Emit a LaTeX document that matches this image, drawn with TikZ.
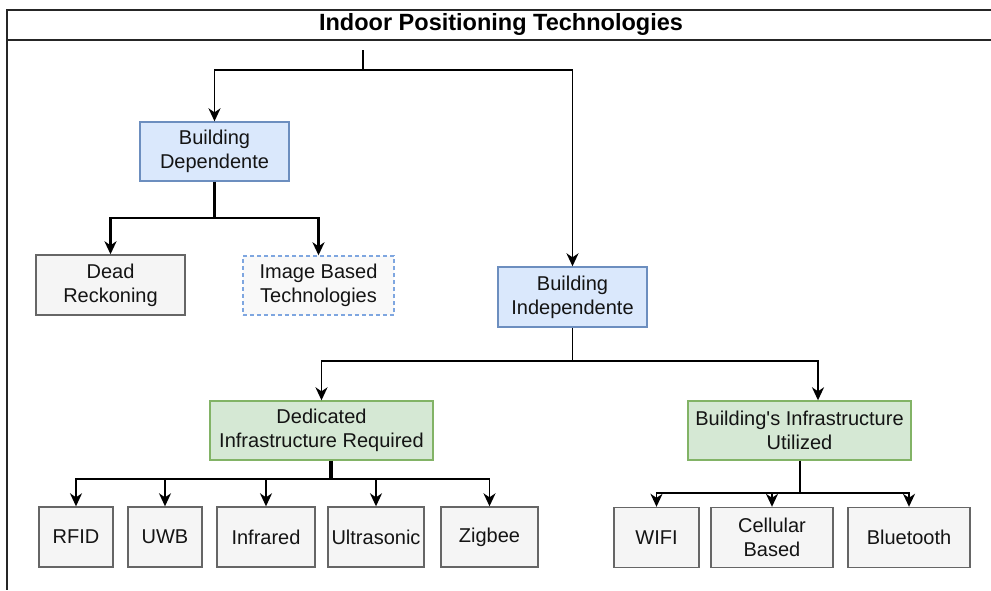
\documentclass[tikz,border=0pt]{standalone}
\usepackage{fontspec}
\setmainfont{Liberation Sans}
\usetikzlibrary{arrows.meta,calc}
\definecolor{bfill}{HTML}{DAE8FC}
\definecolor{bline}{HTML}{6C8EBF}
\definecolor{gfill}{HTML}{D5E8D4}
\definecolor{gline}{HTML}{82B366}
\definecolor{nfill}{HTML}{F5F5F5}
\definecolor{nline}{HTML}{666666}
\definecolor{dline}{HTML}{7EA6E0}
\tikzset{
  box/.style={draw, line width=1.4pt, inner sep=0pt, align=center,
    font=\fontsize{20}{24}\selectfont, text=black!92},
  bluebox/.style={box, fill=bfill, draw=bline},
  greenbox/.style={box, fill=gfill, draw=gline},
  greybox/.style={box, fill=nfill, draw=nline},
  dashbox/.style={box, fill=nfill!60, draw=dline, dashed, dash pattern=on 4pt off 3pt},
  conn/.style={line width=1.8pt, black},
  trunk/.style={line width=3.2pt, black},
  arr/.style={conn, -{Stealth[length=13pt,width=12pt,inset=4pt]}}
}
\begin{document}
\begin{tikzpicture}[x=1pt,y=-1pt]
\useasboundingbox (0,0) rectangle (991,590);
% frame
\draw[line width=2.2pt, black!85] (991,10) -- (7,10) -- (7,590);
\draw[line width=2.2pt, black!85] (7,40) -- (991,40);
\node[font=\fontsize{23.5}{27}\selectfont\bfseries] (title) at (501,24) {Indoor Positioning Technologies};
% nodes
\node[bluebox, minimum width=149pt, minimum height=59pt] (bd) at (214.5,151.5) {Building\\Dependente};
\node[greybox, minimum width=149pt, minimum height=60pt] (dr) at (110.5,285) {Dead\\Reckoning};
\node[dashbox, minimum width=151pt, minimum height=59pt] (ib) at (318.5,285.5) {Image Based\\Technologies};
\node[bluebox, minimum width=149pt, minimum height=60pt] (bi) at (572.5,297) {Building\\Independente};
\node[greenbox, minimum width=223pt, minimum height=59pt] (dir) at (321.5,430.5) {Dedicated\\Infrastructure Required};
\node[greenbox, minimum width=223pt, minimum height=59pt] (biu) at (799.5,430.5) {Building\textquotesingle s Infrastructure\\Utilized};
\node[greybox, minimum width=74pt, minimum height=60pt] (rfid) at (76,537) {RFID};
\node[greybox, minimum width=74pt, minimum height=60pt] (uwb) at (165,537) {UWB};
\node[greybox, minimum width=98pt, minimum height=60pt] (infr) at (266,537) {Infrared};
\node[greybox, minimum width=96pt, minimum height=60pt] (ultra) at (376,537) {Ultrasonic};
\node[greybox, minimum width=97pt, minimum height=60pt] (zig) at (489.5,537) {Zigbee};
\node[greybox, minimum width=85pt, minimum height=60pt] (wifi) at (656.5,537.5) {WIFI};
\node[greybox, minimum width=122pt, minimum height=60pt] (cell) at (772,537.5) {Cellular\\Based};
\node[greybox, minimum width=122pt, minimum height=60pt] (blue) at (909,537.5) {Bluetooth};
% connectors from title
\coordinate (t0) at (363,50);
\coordinate (j0) at (363,70);
\draw[conn] (t0) -- (j0);
\draw[arr] (j0) -| (bd.north);
\draw[arr] (j0) -| (bi.north);
% building dependente
\coordinate (j1) at ($(bd.south)+(0,36)$);
\draw[trunk] (bd.south) -- (j1);
\draw[arr, line width=2.4pt] (j1) -| (dr.north);
\draw[arr, line width=2.4pt] (j1) -| (ib.north);
% building independente
\coordinate (j2) at ($(bi.south)+(0,33)$);
\draw[conn] (bi.south) -- (j2);
\draw[arr] (j2) -| (dir.north);
\draw[arr] (j2) -| ([xshift=18.5pt]biu.north);
% dedicated
\coordinate (d0) at ([xshift=9.5pt]dir.south);
\coordinate (j3) at ($(d0)+(0,18)$);
\draw[trunk] (d0) -- (j3);
\foreach \n in {rfid,uwb,infr,ultra,zig}{\draw[arr] (j3) -| (\n.north);}
% building infrastructure
\coordinate (b0) at ([xshift=0.5pt]biu.south);
\coordinate (j4) at ($(b0)+(0,32)$);
\draw[conn, line width=2.2pt] (b0) -- (j4);
\foreach \n in {wifi,cell,blue}{\draw[arr] (j4) -| (\n.north);}
\end{tikzpicture}
\end{document}
